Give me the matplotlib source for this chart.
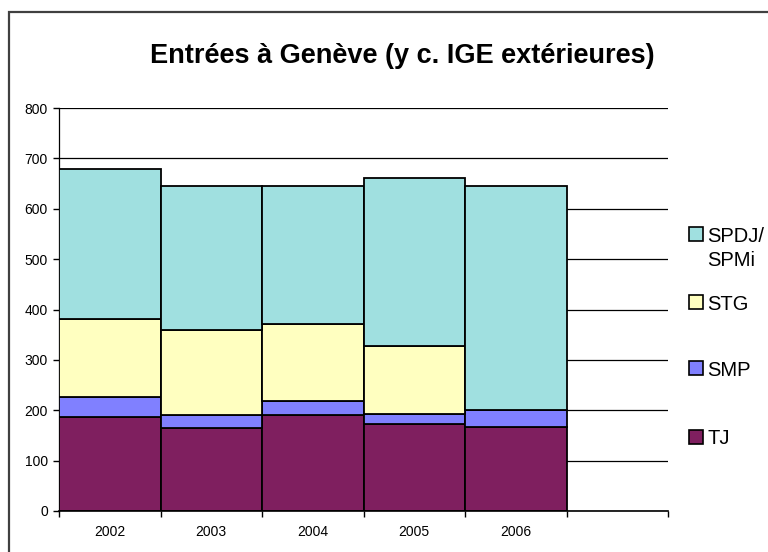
import matplotlib
matplotlib.use("Agg")
import matplotlib.pyplot as plt
from matplotlib.patches import Rectangle
import numpy as np

plt.rcParams['font.family'] = ['Liberation Sans', 'DejaVu Sans']

years = ['2002', '2003', '2004', '2005', '2006']
tj = [187, 164, 191, 172, 166]
smp = [39, 27, 28, 20, 34]
stg = [156, 168, 153, 135, 0]
spdj = [297, 286, 273, 334, 445]

series = [('TJ', tj, '#7f1f5f'),
          ('SMP', smp, '#8080ff'),
          ('STG', stg, '#ffffc0'),
          ('SPDJ/\nSPMi', spdj, '#a0e0e0')]

W, H = 768, 552
fig = plt.figure(figsize=(W / 100, H / 100), dpi=100)
ax = fig.add_axes([59 / W, 1 - 511 / H, (668 - 59) / W, (511 - 108) / H])

x = np.arange(len(years)) + 0.5
bottom = np.zeros(len(years))
for name, vals, col in series:
    v = np.array(vals, dtype=float)
    ax.bar(x, v, width=1.0, bottom=bottom, color=col, edgecolor='black',
           linewidth=1.3, zorder=3)
    bottom += v

ax.set_xlim(0, 6)
ax.set_ylim(0, 800)
ax.set_yticks(np.arange(0, 801, 100))
ax.set_xticks(np.arange(0, 7))
ax.set_xticklabels([])
ax.set_xticks(x, minor=True)
ax.set_xticklabels(years, minor=True)
ax.tick_params(axis='x', which='minor', length=0, pad=10, labelsize=10)
ax.tick_params(axis='x', which='major', length=4, width=1, direction='out')
ax.tick_params(axis='y', length=4, width=1, direction='out', labelsize=10, pad=4)
ax.yaxis.grid(True, color='black', linewidth=0.9, zorder=0)
ax.set_axisbelow(True)
for s in ['top', 'right']:
    ax.spines[s].set_visible(False)
ax.spines['left'].set_linewidth(0.9)
ax.spines['bottom'].set_linewidth(1.2)
ax.spines['bottom'].set_zorder(4)

fig.text(402 / W, 1 - 63 / H, 'Entrées à Genève (y c. IGE extérieures)',
         ha='center', va='baseline', fontsize=19.5, fontweight='bold')

# legend (top to bottom)
leg_y = [234, 302, 368, 437]
line_gap = 24
for (name, vals, col), yy in zip(series[::-1], leg_y):
    fig.patches.append(Rectangle((689 / W, 1 - (yy + 7) / H), 14 / W, 14 / H,
                                 transform=fig.transFigure, facecolor=col,
                                 edgecolor='black', linewidth=1.2))
    for i, line in enumerate(name.split('\n')):
        fig.text(707 / W, 1 - (yy + 7.5 + i * line_gap) / H, line,
                 ha='left', va='baseline', fontsize=14.5)

# outer frame
fig.patches.append(Rectangle((9 / W, -0.1), 1.2, 1 - 12 / H + 0.1,
                             transform=fig.transFigure, fill=False,
                             edgecolor='#404040', linewidth=1.6))

fig.savefig('out.png', dpi=100)
